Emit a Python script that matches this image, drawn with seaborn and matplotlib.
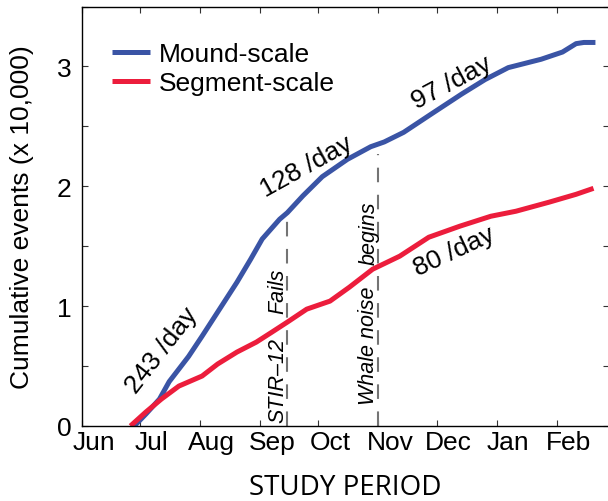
import matplotlib
matplotlib.use("Agg")
import matplotlib.pyplot as plt
import matplotlib.dates as mdates
from matplotlib.lines import Line2D
import pandas as pd
import seaborn as sns

# Cumulative detected events (in units of 10,000)
mound_dates = ["2012-06-28", "2012-07-04", "2012-07-11", "2012-07-16", "2012-07-26",
               "2012-08-02", "2012-08-11", "2012-08-20", "2012-08-27", "2012-09-02",
               "2012-09-11", "2012-09-15", "2012-09-23", "2012-10-03", "2012-10-16",
               "2012-10-28", "2012-11-04", "2012-11-14", "2012-11-28", "2012-12-14",
               "2012-12-26", "2013-01-07", "2013-01-24", "2013-02-04", "2013-02-11",
               "2013-02-15", "2013-02-21"]
mound_events = [0.0, 0.10, 0.225, 0.37, 0.58,
                0.75, 0.975, 1.20, 1.39, 1.56,
                1.725, 1.78, 1.92, 2.08, 2.225,
                2.33, 2.37, 2.45, 2.60, 2.77,
                2.89, 2.99, 3.06, 3.12, 3.19,
                3.20, 3.20]

segment_dates = ["2012-06-26", "2012-07-04", "2012-07-12", "2012-07-21", "2012-08-02",
                 "2012-08-10", "2012-08-20", "2012-08-30", "2012-09-07", "2012-09-15",
                 "2012-09-25", "2012-10-07", "2012-10-17", "2012-10-29", "2012-11-12",
                 "2012-11-27", "2012-12-13", "2012-12-29", "2013-01-11", "2013-01-28",
                 "2013-02-11", "2013-02-20"]
segment_events = [0.0, 0.117, 0.225, 0.333, 0.417,
                  0.517, 0.617, 0.70, 0.783, 0.867,
                  0.975, 1.042, 1.158, 1.308, 1.417,
                  1.575, 1.667, 1.75, 1.792, 1.867,
                  1.933, 1.983]

series_names = ["Mound-scale", "Segment-scale"]
series_colors = ["#3A54A5", "#EC1D3C"]

month_starts = ["2012-06-01", "2012-07-01", "2012-08-01", "2012-09-01", "2012-10-01",
                "2012-11-01", "2012-12-01", "2013-01-01", "2013-02-01"]
month_labels = ["Jun", "Jul", "Aug", "Sep", "Oct", "Nov", "Dec", "Jan", "Feb"]
y_ticks = [0, 0.5, 1, 1.5, 2, 2.5, 3, 3.5]
y_tick_labels = ["0", "", "1", "", "2", "", "3", ""]

rate_labels = ["243 /day", "128 /day", "97 /day", "80 /day"]
rate_dates = ["2012-07-12", "2012-09-25", "2012-12-09", "2012-12-10"]
rate_values = [0.64, 2.17, 2.87, 1.46]
rate_angles = [52, 29, 28, 25]

event_dates = ["2012-09-15", "2012-11-01"]
event_tops = [1.76, 2.27]
event_notes = [("STIR\u201312", "Fails"), ("Whale noise", "begins")]
note_dates = ["2012-09-10", "2012-10-27"]
note_lower_y = [0.39, 0.675]
note_upper_y = [1.13, 1.62]

sns.set_theme(style="ticks")
plt.rcParams["font.family"] = ["Liberation Sans", "DejaVu Sans"]
plt.rcParams["axes.unicode_minus"] = False
plt.rcParams["text.color"] = "black"
plt.rcParams["axes.labelcolor"] = "black"
plt.rcParams["xtick.color"] = "black"
plt.rcParams["ytick.color"] = "black"

df = pd.concat([
    pd.DataFrame({"date": pd.to_datetime(mound_dates), "events": mound_events,
                  "series": series_names[0]}),
    pd.DataFrame({"date": pd.to_datetime(segment_dates), "events": segment_events,
                  "series": series_names[1]}),
], ignore_index=True)

fig = plt.figure(figsize=(6.08, 5.02), dpi=100)
ax = fig.add_axes([82 / 608, 1 - 427 / 502, 527 / 608, 419.5 / 502])

palette = dict(zip(series_names, series_colors))
sns.lineplot(data=df, x="date", y="events", hue="series", palette=palette,
             linewidth=3.6, ax=ax, legend=False, solid_capstyle="butt")

d2n = lambda s: mdates.date2num(pd.Timestamp(s))

# Event markers
for d, top in zip(event_dates, event_tops):
    ax.plot([d2n(d), d2n(d)], [0, top], color="#747474", lw=1.5,
            ls=(0, (7, 6)), zorder=1)

for (lo, hi), d, ylo, yhi in zip(event_notes, note_dates, note_lower_y, note_upper_y):
    ax.text(d2n(d), ylo, lo, rotation=90, ha="center", va="center",
            fontsize=15.5, style="italic")
    ax.text(d2n(d), yhi, hi, rotation=90, ha="center", va="center",
            fontsize=15.5, style="italic")

for lab, d, v, ang in zip(rate_labels, rate_dates, rate_values, rate_angles):
    ax.text(d2n(d), v, lab, rotation=ang, rotation_mode="anchor",
            ha="center", va="center", fontsize=19)

ax.set_xlim(d2n("2012-06-01"), d2n("2013-02-28"))
ax.set_ylim(0, 3.5)

ax.set_xticks([d2n(m) for m in month_starts])
ax.set_xticklabels([""] * len(month_starts))
label_pos = [d2n(m) + 6 for m in month_starts]
ax.set_xticks(label_pos, minor=True)
ax.set_xticklabels(month_labels, minor=True)
ax.set_yticks(y_ticks)
ax.set_yticklabels(y_tick_labels)

for s in ax.spines.values():
    s.set_visible(True)
    s.set_color("black")
    s.set_linewidth(1.0)

ax.tick_params(which="major", direction="in", length=4, width=0.8, color="#333333",
               top=True, right=True, labelsize=19)
ax.tick_params(axis="y", which="major", pad=7.5)
ax.tick_params(axis="x", which="minor", length=0, pad=3, labelsize=19,
               top=False)

ax.set_ylabel("Cumulative events (x 10,000)", fontsize=19)
ax.yaxis.set_label_coords(-0.091, 0.5)
ax.set_xlabel("STUDY PERIOD", fontsize=20, family=["Open Sans", "DejaVu Sans"])
ax.xaxis.set_label_coords(0.5, (427 - 495) / 419.5)
ax.xaxis.label.set_va("baseline")

handles = [Line2D([0], [0], color=c, lw=3.6, solid_capstyle="butt") for c in series_colors]
ax.legend(handles, series_names, loc="upper left", bbox_to_anchor=(0.057, 0.915),
          frameon=False, fontsize=19, borderpad=0, borderaxespad=0,
          handlelength=1.45, handletextpad=0.33, labelspacing=0.2)

fig.savefig("out.png", dpi=100)
